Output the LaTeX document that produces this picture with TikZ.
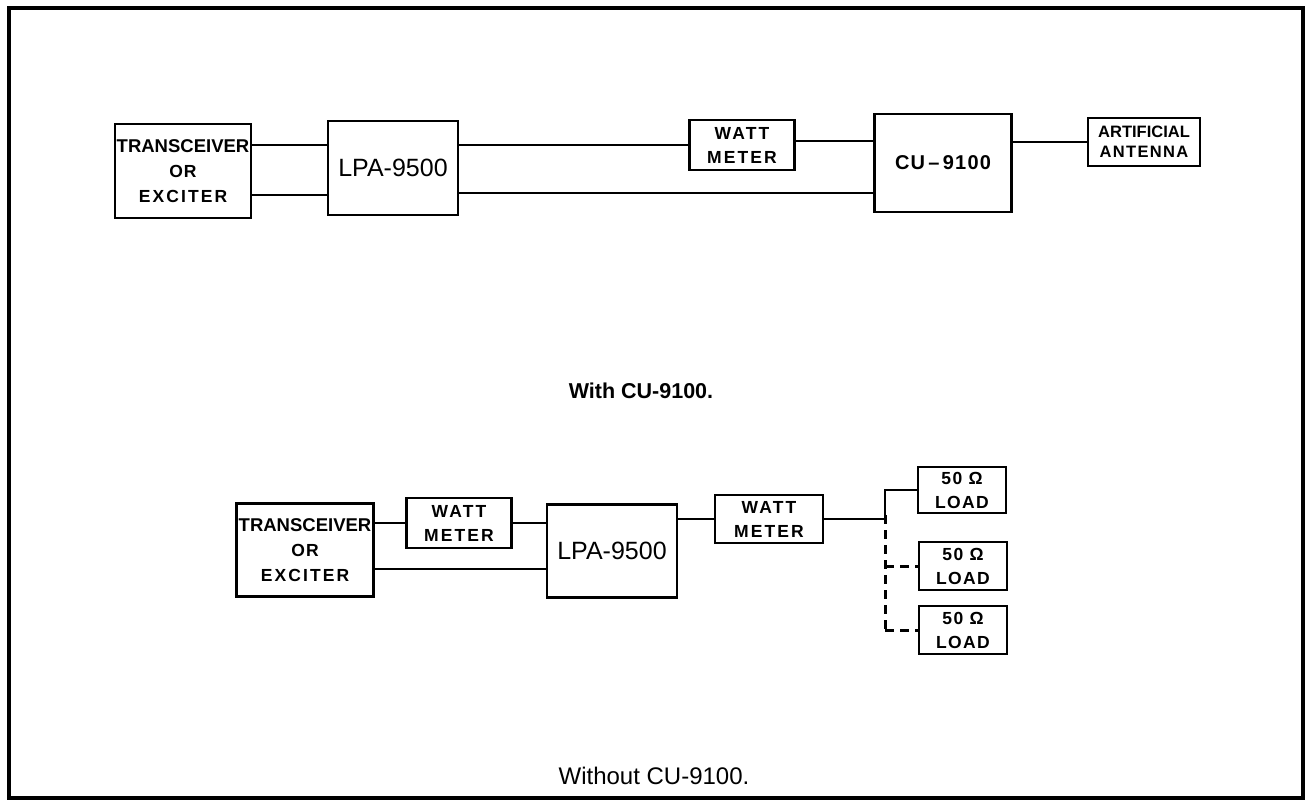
\documentclass[tikz,border=0pt]{standalone}
\usepackage{fontspec}
\setmainfont{Liberation Sans}
\begin{document}
\begin{tikzpicture}[x=1pt,y=-1pt,
  blk/.style={draw, line width=2.3pt, inner sep=0pt, align=center},
  heavy/.style={font=\bfseries\fontsize{17.5}{24}\selectfont},
  wire/.style={line width=2pt},
  dwire/.style={line width=3pt, dash pattern=on 9pt off 6pt}]
\useasboundingbox (0,0) rectangle (1307,802);
\draw[line width=4pt] (9,8) rectangle (1303,798);
% top diagram
\node[blk, heavy, minimum width=136pt, minimum height=94pt] (trx) at (183,171)
  {\fontsize{18.5}{24}\selectfont TRANSCEIVER\\[1pt]{\addfontfeature{LetterSpace=6}OR}\\[1pt]{\addfontfeature{LetterSpace=12}EXCITER}};
\node[blk, minimum width=130pt, minimum height=94pt, font=\fontsize{25}{28}\selectfont] (lpa) at (393,168) {LPA-9500};
\node[blk, heavy, minimum width=105pt, minimum height=50pt] (wm) at (742,145)
  {\addfontfeature{LetterSpace=12}WATT\\\addfontfeature{LetterSpace=12}METER};
\node[blk, minimum width=137pt, minimum height=98pt, font=\bfseries\fontsize{20}{22}\selectfont] (cu) at (943,163)
  {\addfontfeature{LetterSpace=6}CU\,--\,9100};
\node[blk, minimum width=112pt, minimum height=48pt, font=\bfseries\fontsize{16.5}{20}\selectfont] (ant) at (1144,142)
  {ARTIFICIAL\\\addfontfeature{LetterSpace=8}ANTENNA};
\draw[wire] (trx.east |- wm.west) -- (lpa.west |- wm.west);
\draw[wire] (trx.east |- 0,195) -- (lpa.west |- 0,195);
\draw[wire] (lpa.east |- wm.west) -- (wm.west);
\draw[wire] ([yshift=4pt]wm.east) -- ([yshift=4pt]wm.east -| cu.west);
\draw[wire] (lpa.east |- 0,193) -- (cu.west |- 0,193);
\draw[wire] (cu.east |- ant.west) -- (ant.west);
\node[font=\bfseries\fontsize{21.5}{24}\selectfont] (cap1) at (641,391) {With CU-9100.};
% bottom diagram
\node[blk, heavy, minimum width=137pt, minimum height=93pt] (trx2) at (305,550)
  {\fontsize{18.5}{24}\selectfont TRANSCEIVER\\[1pt]{\addfontfeature{LetterSpace=6}OR}\\[1pt]{\addfontfeature{LetterSpace=12}EXCITER}};
\node[blk, heavy, minimum width=105pt, minimum height=50pt] (wm1) at (459,523)
  {\addfontfeature{LetterSpace=12}WATT\\\addfontfeature{LetterSpace=12}METER};
\node[blk, minimum width=130pt, minimum height=93pt, font=\fontsize{25}{28}\selectfont] (lpa2) at (612,551) {LPA-9500};
\node[blk, heavy, minimum width=108pt, minimum height=48pt] (wm2) at (769,519)
  {\addfontfeature{LetterSpace=12}WATT\\\addfontfeature{LetterSpace=12}METER};
\node[blk, heavy, minimum width=88pt, minimum height=46pt] (load1) at (962,490)
  {\addfontfeature{LetterSpace=8}50 Ω\\\addfontfeature{LetterSpace=8}LOAD};
\node[blk, heavy, minimum width=88pt, minimum height=48pt] (load2) at (963,566)
  {\addfontfeature{LetterSpace=8}50 Ω\\\addfontfeature{LetterSpace=8}LOAD};
\node[blk, heavy, minimum width=88pt, minimum height=48pt] (load3) at (963,630)
  {\addfontfeature{LetterSpace=8}50 Ω\\\addfontfeature{LetterSpace=8}LOAD};
\coordinate (j) at (885,519);
\coordinate (jend) at (885,634);
\draw[wire] (trx2.east |- wm1.west) -- (wm1.west);
\draw[wire] (wm1.east) -- (wm1.east -| lpa2.west);
\draw[wire] (trx2.east |- 0,569) -- (lpa2.west |- 0,569);
\draw[wire] (lpa2.east |- wm2.west) -- (wm2.west);
\draw[wire] (wm2.east) -- (j) -- (j |- load1.west) -- (load1.west);
\draw[dwire] ([yshift=4pt]j) -- (jend);
\draw[dwire] (j |- load2.west) -- (load2.west);
\draw[dwire] (j |- load3.west) -- (load3.west);
\node[font=\fontsize{24}{28}\selectfont] (cap2) at (654,776) {Without CU-9100.};
\end{tikzpicture}
\end{document}
